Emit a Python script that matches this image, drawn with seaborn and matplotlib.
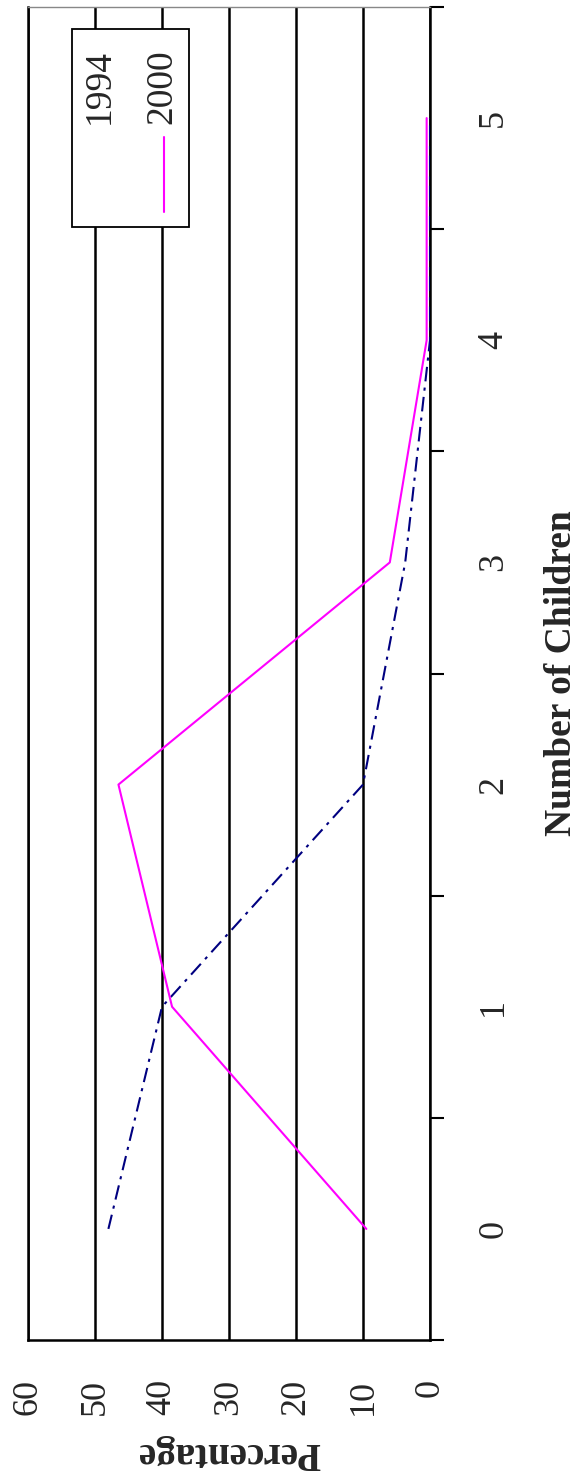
import numpy as np
import pandas as pd
import matplotlib
matplotlib.use("Agg")
import matplotlib.pyplot as plt
from matplotlib.patches import Rectangle
import seaborn as sns

# Share of families by number of children, surveys of 1994 and 2000
children = [0, 1, 2, 3, 4, 5]
child_labels = ["0", "1", "2", "3", "4", "5"]
pct_1994 = [48, 40, 10, 3.7, 0, 0]
pct_2000 = [9.5, 38.5, 46.5, 6, 0.5, 0.5]
years = ["1994", "2000"]
pct_ticks = [0, 10, 20, 30, 40, 50, 60]

sns.set_style("white")
plt.rcParams["font.family"] = ["Liberation Serif", "DejaVu Serif"]

df = pd.DataFrame({
    "children": children * 2,
    "pct": pct_1994 + pct_2000,
    "year": [years[0]] * len(children) + [years[1]] * len(children),
})

W, H = 584, 1484
fig = plt.figure(figsize=(W / 100, H / 100), dpi=100)
ax = fig.add_axes([28 / W, 144 / H, 402 / W, 1333 / H])

sns.lineplot(
    data=df, x="pct", y="children", hue="year", style="year",
    palette={"1994": "#000080", "2000": "#FF00FF"},
    dashes={"1994": (7, 3, 1.5, 3), "2000": ""},
    orient="y", sort=False, estimator=None, legend=False,
    linewidth=1.5, ax=ax, zorder=3,
)

# value axis runs right-to-left along the bottom
ax.set_xlim(60, 0)
ax.set_xticks(pct_ticks)
ax.set_xticklabels([str(t) for t in pct_ticks], rotation=90, fontsize=26)
ax.tick_params(axis="x", which="major", direction="out", length=10,
               width=1.5, color="black", pad=18)

# category axis on the right, ticks between categories
ax.set_ylim(-0.5, 5.5)
ax.yaxis.tick_right()
ax.yaxis.set_label_position("right")
ax.set_yticks(np.arange(-0.5, 6.0, 1.0))
ax.set_yticklabels([])
ax.tick_params(axis="y", which="major", direction="out", length=10,
               width=1.5, color="black", right=True, left=False)
ax.set_yticks(children, minor=True)
ax.set_yticklabels(child_labels, minor=True, rotation=90, va="center",
                   fontsize=26)
ax.tick_params(axis="y", which="minor", length=0, pad=34,
               right=True, left=False)

ax.grid(axis="x", color="black", linewidth=1.8)
ax.grid(axis="y", visible=False)
ax.set_axisbelow(True)

for side in ("right", "bottom", "left"):
    ax.spines[side].set_color("black")
    ax.spines[side].set_linewidth(1.8)
ax.spines["top"].set_color("#888888")
ax.spines["top"].set_linewidth(1.0)

ax.set_xlabel("Percentage", rotation=180, fontsize=28, fontweight="bold",
              labelpad=14)
ax.set_ylabel("Number of Children", rotation=90, fontsize=27,
              fontweight="bold", labelpad=24)

# legend box, drawn in the rotated frame
ax.add_patch(Rectangle((0.1095, 0.835), 0.291, 0.1485, transform=ax.transAxes,
                       facecolor="white", edgecolor="black", linewidth=1.3,
                       zorder=5))
ax.text(0.179, 0.9407, years[0], rotation=90, ha="center", va="center",
        fontsize=27, transform=ax.transAxes, zorder=6)
ax.text(0.333, 0.9400, years[1], rotation=90, ha="center", va="center",
        fontsize=27, transform=ax.transAxes, zorder=6)
ax.plot([0.338, 0.338], [0.846, 0.9025], transform=ax.transAxes,
        color="#FF00FF", linewidth=1.5, zorder=6)

fig.savefig("out.png", dpi=100)
